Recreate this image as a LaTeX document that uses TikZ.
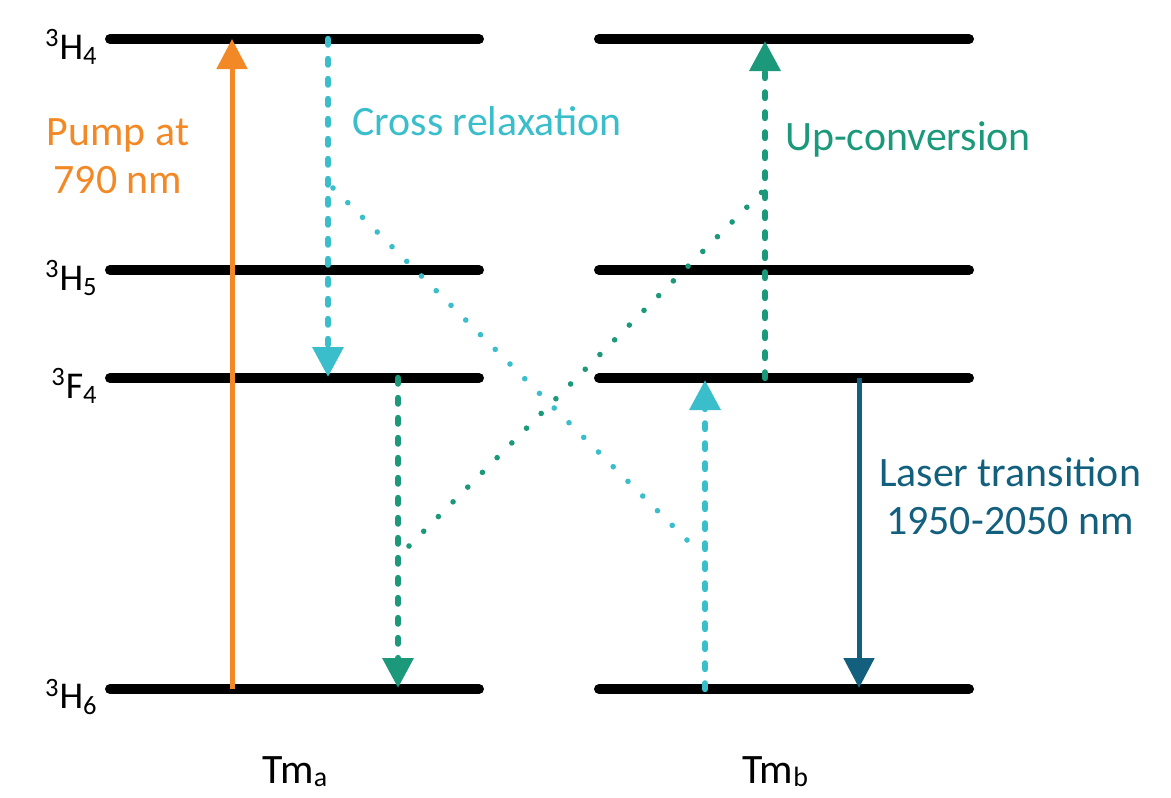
\documentclass[tikz,border=0pt]{standalone}
\usepackage{fontspec}
\setmainfont{Carlito}
\usetikzlibrary{arrows.meta}

\definecolor{pumpcol}{RGB}{242,137,38}
\definecolor{crosscol}{RGB}{58,190,204}
\definecolor{upcol}{RGB}{27,153,122}
\definecolor{lasercol}{RGB}{18,95,126}

\newcommand{\lowsub}[1]{\raisebox{-0.08em}{\fontsize{14}{14}\selectfont #1}}

\begin{document}
\begin{tikzpicture}[
  x=0.5bp, y=-0.5bp,
  level/.style={line width=5bp,line cap=round},
  tip/.style={-{Triangle[width=15bp,length=15bp]}},
  solidarrow/.style={tip,line width=2.5bp},
  dasharrow/.style={tip,line width=3.2bp,line cap=round,dash pattern=on 2.8bp off 7.2bp},
  dotline/.style={line width=2.8bp,line cap=round,dash pattern=on 0bp off 10.4bp},
  levlab/.style={font=\fontsize{19}{22}\selectfont,anchor=east,inner sep=0pt},
  lab/.style={font=\fontsize{21}{24}\selectfont,align=center,inner sep=0pt},
]
\useasboundingbox (0,0) rectangle (1171,797);

\foreach \lv/\yy/\txt in {
  h4/39/{\textsuperscript{3}H\textsubscript{4}},
  h5/270/{\textsuperscript{3}H\textsubscript{5}},
  f4/378/{\textsuperscript{3}F\textsubscript{4}},
  h6/689/{\textsuperscript{3}H\textsubscript{6}}}{
  \draw[level] (110,\yy) coordinate (a\lv w) -- (479,\yy) coordinate (a\lv e);
  \draw[level] (599,\yy) coordinate (b\lv w) -- (969,\yy) coordinate (b\lv e);
  \node[levlab] (l\lv) at (98,\yy+8) {\txt};
}

\coordinate (pumpLo) at (232,689);
\coordinate (pumpHi) at (232,39);
\coordinate (crossHi) at (328,39);
\coordinate (crossLo) at (328,377);
\coordinate (crossA) at (333,188);
\coordinate (crossB) at (699,552);
\coordinate (crossUpLo) at (705,689);
\coordinate (crossUpHi) at (705,380);
\coordinate (upDownHi) at (398,378);
\coordinate (upDownLo) at (398,688);
\coordinate (upA) at (409,546);
\coordinate (upB) at (762,192);
\coordinate (upLo) at (765,378);
\coordinate (upHi) at (765,41);
\coordinate (laserHi) at (859,378);
\coordinate (laserLo) at (859,688);

\draw[solidarrow,pumpcol] (pumpLo) -- (pumpHi);
\draw[dasharrow,crosscol] (crossHi) -- (crossLo);
\draw[dotline,crosscol] (crossA) -- (crossB);
\draw[dasharrow,crosscol] (crossUpLo) -- (crossUpHi);
\draw[dasharrow,upcol] (upDownHi) -- (upDownLo);
\draw[dotline,upcol] (upA) -- (upB);
\draw[dasharrow,upcol] (upLo) -- (upHi);
\draw[solidarrow,lasercol] (laserHi) -- (laserLo);

\node[lab,pumpcol] (pump) at (118,156) {Pump at\\790 nm};
\node[lab,crosscol,anchor=base] (cross) at (487,135) {Cross relaxation};
\node[lab,upcol,anchor=base] (upconv) at (908,150) {Up-conversion};
\node[lab,lasercol] (laser) at (1010,496) {Laser transition\\1950-2050 nm};
\node[lab,anchor=base] (tma) at (295,783) {Tm\lowsub{a}};
\node[lab,anchor=base] (tmb) at (775,783) {Tm\lowsub{b}};
\end{tikzpicture}
\end{document}
